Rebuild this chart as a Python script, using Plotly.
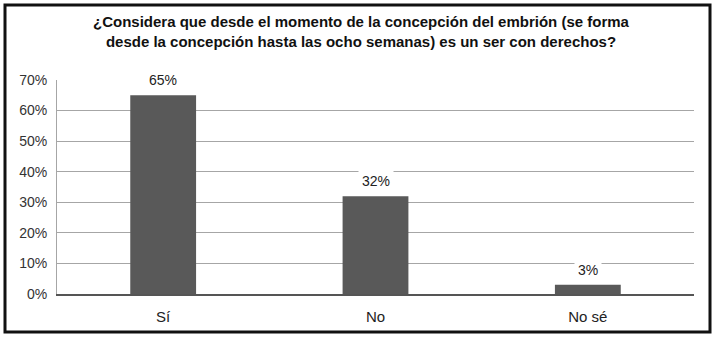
import plotly.graph_objects as go

categories = ["Sí", "No", "No sé"]
values = [0.65, 0.32, 0.03]
labels = ["65%", "32%", "3%"]
tick_vals = [0, 0.1, 0.2, 0.3, 0.4, 0.5, 0.6, 0.7]
tick_text = ["0%", "10%", "20%", "30%", "40%", "50%", "60%", "70%"]

title_text = ("<b>¿Considera que desde el momento de la concepción del embrión (se forma<br>"
              "desde la concepción hasta las ocho semanas) es un ser con derechos?</b>")

fig = go.Figure()
fig.add_trace(go.Bar(x=categories, y=values, marker=dict(color="#595959", line=dict(width=0)),
                     hoverinfo="skip"))

for c, v, t in zip(categories, values, labels):
    fig.add_annotation(x=c, y=v, text=t, showarrow=False, yanchor="bottom", yshift=3,
                       bgcolor="white", borderpad=3,
                       font=dict(family="Liberation Sans, Arial", size=14, color="#222"))

L, R, T, B = 57, 22, 80, 49
W, H = 716, 343
pw, ph = W - L - R, H - T - B

def px_x(x):
    return (x - L) / pw

def px_y(y):
    return (H - B - y) / ph

fig.add_shape(type="rect", xref="paper", yref="paper",
              x0=px_x(5), x1=px_x(710), y0=px_y(332), y1=px_y(5),
              line=dict(color="#111", width=3), fillcolor="rgba(0,0,0,0)", layer="above")

fig.add_annotation(xref="paper", yref="paper", x=px_x(361), y=px_y(32), text=title_text,
                   showarrow=False, xanchor="center", yanchor="middle",
                   font=dict(family="Liberation Sans, Arial", size=15, color="#111"))

fig.update_layout(
    width=W, height=H,
    margin=dict(l=L, r=R, t=T, b=B),
    paper_bgcolor="white", plot_bgcolor="white",
    bargap=0.69,
    showlegend=False,
    font=dict(family="Liberation Sans, Arial", size=14, color="#333"),
)
fig.update_xaxes(showgrid=False, showline=True, linecolor="#555", linewidth=1.5,
                 ticks="", tickfont=dict(size=15, color="#222"), ticklabelstandoff=8)
fig.update_yaxes(range=[0, 0.7], tickvals=tick_vals, ticktext=tick_text,
                 showgrid=True, gridcolor="#a6a6a6", gridwidth=1,
                 showline=True, linecolor="#a6a6a6", linewidth=1,
                 zeroline=False, ticks="", tickfont=dict(size=14, color="#333"),
                 ticklabelstandoff=6)

fig.write_html("out.html", config={"displayModeBar": False},
               post_script="document.body.style.margin='0';")
